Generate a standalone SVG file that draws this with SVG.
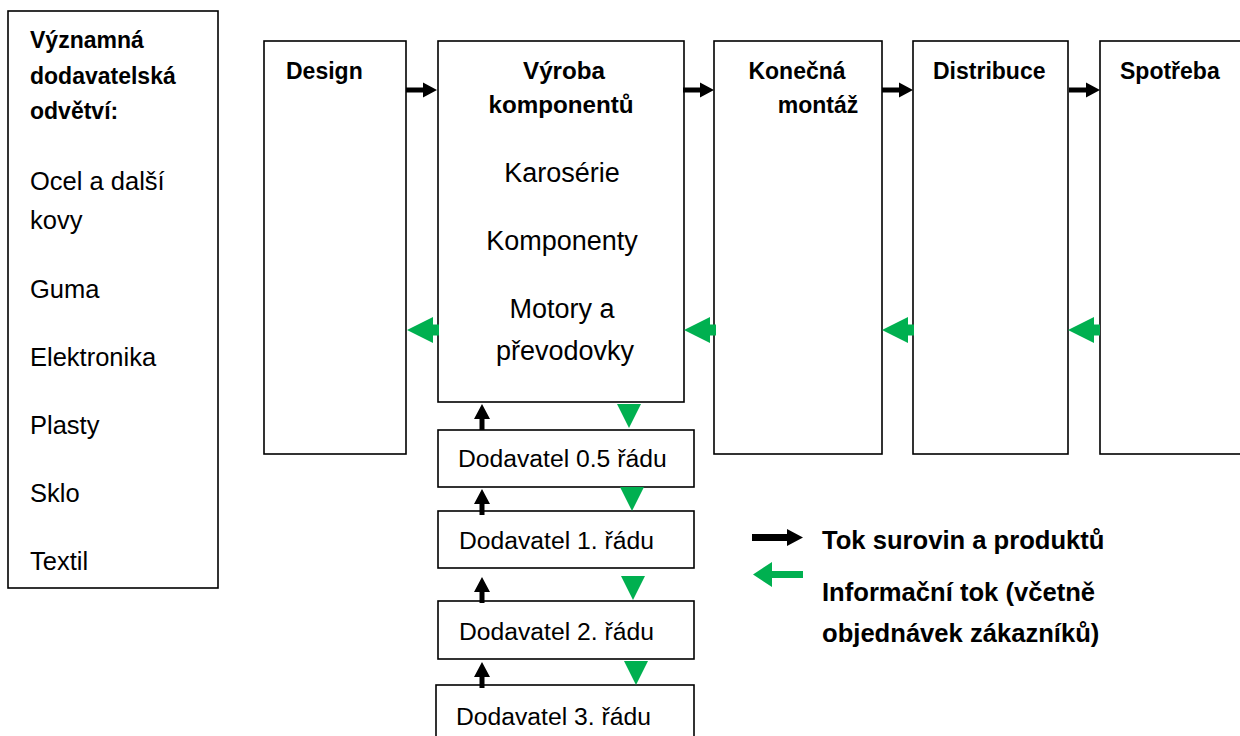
<svg xmlns="http://www.w3.org/2000/svg" xmlns:xlink="http://www.w3.org/1999/xlink" width="1240" height="736" viewBox="0 0 1240 736">
<style>
.box{fill:#fff;stroke:#000;stroke-width:1.6}
text{font-family:"Liberation Sans",Arial,sans-serif;fill:#000}
.h{font-weight:bold;font-size:23px}
.hv{font-weight:bold;font-size:24.2px}
.n{font-size:25.5px}
.nv{font-size:27px}
.s{font-size:24.7px}
.lg{font-weight:bold;font-size:25.6px}
.blk{fill:#000}
.grn{fill:#00B050}
</style>
<defs>
<path id="blkR" d="M-31,-2.5 H-14 V-7.5 L0,0 L-14,7.5 V2.5 H-31 Z"/>
<path id="grnL" d="M0,0 L26,-13 V-5.5 H32 V5.5 H26 V13 Z"/>
<path id="blkU" d="M0,0 L8,15 H2.5 V26 H-2.5 V15 H-8 Z"/>
<path id="grnD" d="M0,0 L-12,-24 H12 Z"/>
</defs>
<rect width="1240" height="736" fill="#fff"/>

<g id="sectors">
<rect class="box" x="8" y="11" width="210" height="577"/>
<text class="h" x="30" y="48">Významná</text>
<text class="h" x="30" y="84">dodavatelská</text>
<text class="h" x="30" y="119">odvětví:</text>
<text class="n" x="30" y="190">Ocel a další</text>
<text class="n" x="30" y="229">kovy</text>
<text class="n" x="30" y="298">Guma</text>
<text class="n" x="30" y="366">Elektronika</text>
<text class="n" x="30" y="434">Plasty</text>
<text class="n" x="30" y="502">Sklo</text>
<text class="n" x="30" y="570">Textil</text>
</g>

<g id="design">
<rect class="box" x="264" y="41" width="142" height="413"/>
<text class="h" x="286" y="79">Design</text>
</g>

<g id="vyroba">
<rect class="box" x="438" y="41" width="246" height="361"/>
<text class="hv" x="564" y="79" text-anchor="middle">Výroba</text>
<text class="hv" x="561" y="113" text-anchor="middle">komponentů</text>
<text class="nv" x="562" y="182" text-anchor="middle">Karosérie</text>
<text class="nv" x="562" y="250" text-anchor="middle">Komponenty</text>
<text class="nv" x="562" y="318" text-anchor="middle">Motory a</text>
<text class="nv" x="565" y="360" text-anchor="middle">převodovky</text>
</g>

<g id="montaz">
<rect class="box" x="714" y="41" width="168" height="413"/>
<text class="h" x="797" y="79" text-anchor="middle">Konečná</text>
<text class="h" x="818" y="113" text-anchor="middle">montáž</text>
</g>

<g id="distribuce">
<rect class="box" x="913" y="41" width="155" height="413"/>
<text class="h" x="933" y="79">Distribuce</text>
</g>

<g id="spotreba">
<rect class="box" x="1100" y="41" width="150" height="413"/>
<text class="h" x="1120" y="79">Spotřeba</text>
</g>

<g id="dod05">
<rect class="box" x="438" y="430" width="256" height="57"/>
<text class="s" x="458" y="467">Dodavatel 0.5 řádu</text>
</g>
<g id="dod1">
<rect class="box" x="438" y="511" width="256" height="57"/>
<text class="s" x="459" y="549">Dodavatel 1. řádu</text>
</g>
<g id="dod2">
<rect class="box" x="438" y="601" width="256" height="58"/>
<text class="s" x="459" y="640">Dodavatel 2. řádu</text>
</g>
<g id="dod3">
<rect class="box" x="436" y="685" width="258" height="60"/>
<text class="s" x="456" y="725">Dodavatel 3. řádu</text>
</g>

<g id="connectors">
<use href="#blkR" class="blk" x="437" y="90"/>
<use href="#blkR" class="blk" x="714" y="90"/>
<use href="#blkR" class="blk" x="913" y="90"/>
<use href="#blkR" class="blk" x="1100" y="90"/>
<use href="#grnL" class="grn" x="407" y="330"/>
<use href="#grnL" class="grn" x="684" y="330"/>
<use href="#grnL" class="grn" x="882" y="330"/>
<use href="#grnL" class="grn" x="1068" y="330"/>
<use href="#blkU" class="blk" x="482" y="404"/>
<use href="#blkU" class="blk" x="482" y="489"/>
<use href="#blkU" class="blk" x="482" y="577"/>
<use href="#blkU" class="blk" x="482" y="662"/>
<use href="#grnD" class="grn" x="629" y="428"/>
<use href="#grnD" class="grn" x="632" y="511"/>
<use href="#grnD" class="grn" x="633" y="600"/>
<use href="#grnD" class="grn" x="636" y="685"/>
</g>

<g id="legend">
<path class="blk" d="M752,534 H787 V529 L803,537.5 L787,546 V541 H752 Z"/>
<path class="grn" d="M753,574.5 L772,562 V571 H803 V578 H772 V587 Z"/>
<text class="lg" x="822" y="549">Tok surovin a produktů</text>
<text class="lg" x="822" y="601">Informační tok (včetně</text>
<text class="lg" x="822" y="642">objednávek zákazníků)</text>
</g>
</svg>
